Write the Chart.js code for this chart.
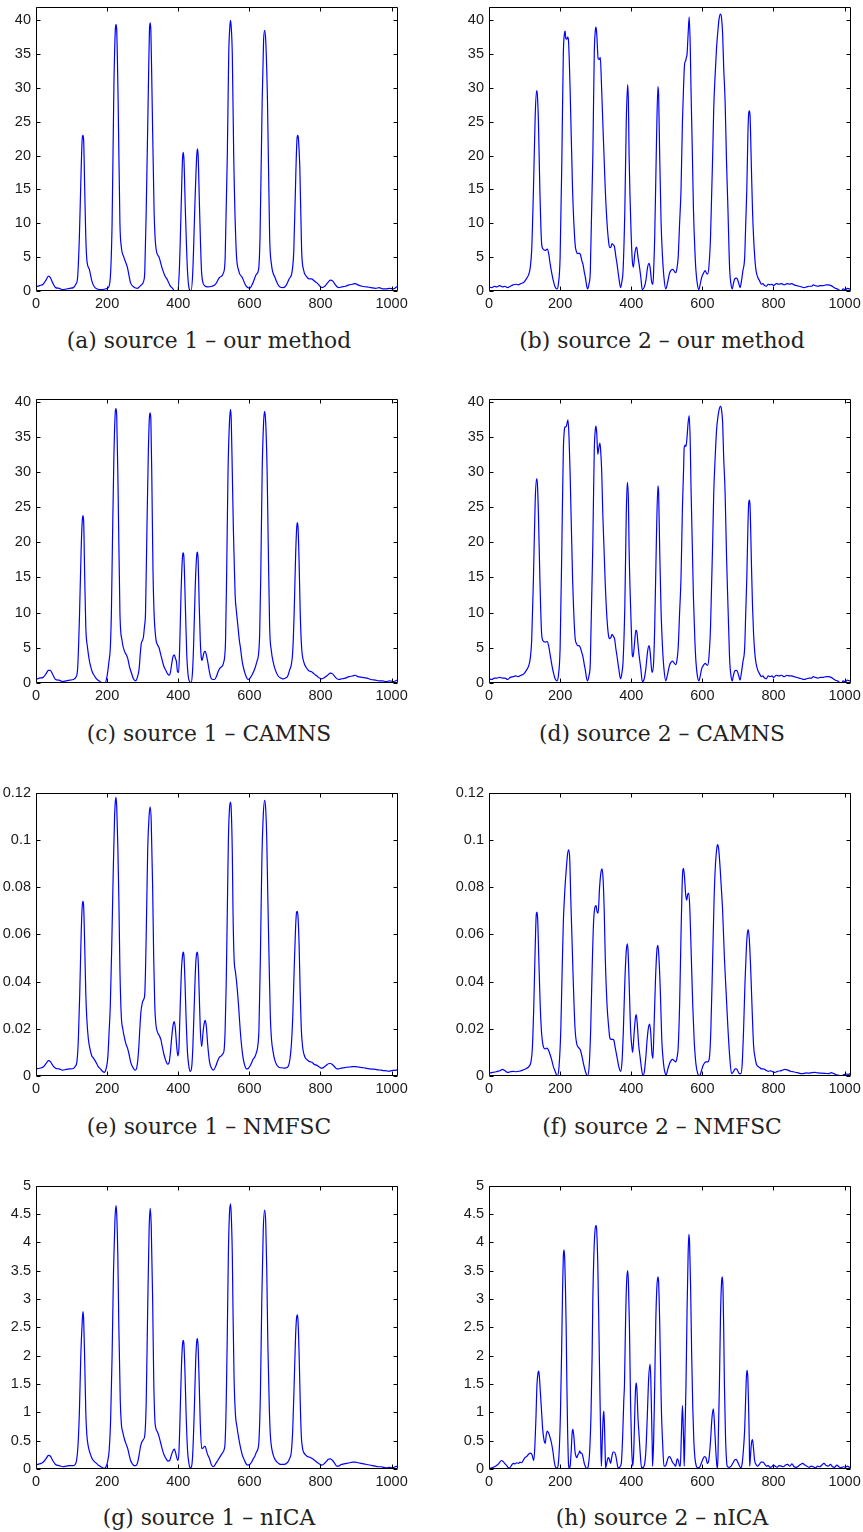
<!DOCTYPE html>
<html>
<head>
<meta charset="utf-8">
<script src="https://cdn.jsdelivr.net/npm/chart.js@4.4.1/dist/chart.umd.min.js"></script>
<style>
  html, body { margin: 0; padding: 0; background: #fff; }
  #fig { position: relative; width: 863px; height: 1532px; overflow: hidden; }
  .panel { position: absolute; }
  .cap { position: absolute; width: 420px; text-align: center; font-family: "DejaVu Serif", serif; font-size: 21.8px; line-height: 24px; color: #222; white-space: nowrap; }
</style>
</head>
<body>
<div id="fig"></div>
<script>
// ---------------- DATA ----------------
const captions = [
  "(a) source 1 \u2013 our method", "(b) source 2 \u2013 our method",
  "(c) source 1 \u2013 CAMNS", "(d) source 2 \u2013 CAMNS",
  "(e) source 1 \u2013 NMFSC", "(f) source 2 \u2013 NMFSC",
  "(g) source 1 \u2013 nICA", "(h) source 2 \u2013 nICA"
];
const xTicks = [0, 200, 400, 600, 800, 1000];
const yTicks40 = [0, 5, 10, 15, 20, 25, 30, 35, 40];
const yTicks012 = [0, 0.02, 0.04, 0.06, 0.08, 0.1, 0.12];
const yTicks5 = [0, 0.5, 1, 1.5, 2, 2.5, 3, 3.5, 4, 4.5, 5];
const yMax = [42, 42, 40.4, 40.4, 0.12, 0.12, 5, 5];
const xMax = 1018;

const srcA = [[0,0.6],[10,0.8],[20,1.0],[28,1.6],[35,2.2],[40,2.0],[47,1.2],[55,0.5],[65,0.4],[75,0.2],[85,0.3],[95,0.4],[105,0.5],[112,1.0],[117,2.0],[122,8],[127,18],[130,22.5],[132,23],[134,22.3],[137,15],[140,8],[143,4.6],[150,3.2],[157,1.5],[163,0.7],[172,0.3],[185,0.2],[195,0.3],[203,0.5],[209,2],[214,10],[219,30],[223,38.5],[225,39.4],[227,38.5],[231,28],[236,10],[240,6.5],[247,5.0],[257,3.5],[266,1.2],[275,0.6],[285,0.4],[294,0.8],[303,1.5],[306,3],[310,12],[316,30],[319,38.5],[321,39.6],[323,38.5],[326,30],[332,12],[337,6.5],[346,5],[354,3.5],[362,2.3],[370,1.6],[377,0.8],[384,0.4],[390,0],[398,0],[403,3],[408,12],[412,19.5],[414,20.5],[416,19.5],[420,12],[426,3],[431,0.3],[436,0],[441,3],[447,13],[452,20],[454,21],[456,20],[460,12],[466,2.5],[474,0.8],[483,0.6],[495,0.7],[505,1.0],[516,2.0],[528,2.8],[532,5],[538,20],[542,35],[545,39],[547,40],[549,39],[552,35],[556,20],[563,6],[570,3],[580,2],[590,0.8],[601,0.4],[610,1.2],[620,2.5],[626,3.2],[630,8],[636,28],[640,37],[643,38.5],[646,37],[651,28],[657,8],[662,4],[672,2],[686,0.6],[695,0.5],[703,0.8],[712,1.8],[720,2.8],[725,6],[731,18],[734,22.5],[736,23],[738,22.5],[742,18],[747,6],[753,3],[760,2.2],[768,1.8],[775,1.8],[782,1.5],[790,1.2],[804,0.5],[812,0.7],[820,1.2],[828,1.6],[834,1.5],[842,0.9],[851,0.5],[860,0.6],[870,0.7],[880,0.9],[890,1.0],[898,1.1],[905,0.9],[917,0.7],[930,0.6],[942,0.5],[955,0.4],[965,0.5],[975,0.3],[983,0.3],[995,0.4],[1005,0.3],[1015,0.6],[1024,0.6]];

const srcB = [[0,0.6],[8,0.5],[15,0.7],[22,0.6],[30,0.8],[38,0.6],[45,0.7],[52,0.5],[60,0.7],[68,0.9],[75,1.0],[82,0.9],[90,1.1],[98,1.3],[105,1.8],[112,2.5],[116,3.5],[120,6],[125,15],[130,26],[134,29.6],[136,29],[139,25],[143,15],[148,7],[152,6.2],[158,6.0],[164,6.2],[168,5.5],[172,4],[177,2.5],[181,1.5],[186,0.6],[191,0.3],[195,1.0],[200,5],[205,20],[209,35],[212,38],[214,38.4],[216,37.3],[219,37.2],[221,37.5],[223,37.3],[228,30],[235,15],[242,7],[246,5.8],[249,5.5],[253,5.6],[257,5.4],[261,4.5],[264,4],[268,2.8],[271,2],[274,1.0],[277,0.3],[281,1.0],[285,3],[292,20],[296,35],[299,38.5],[301,39],[303,38],[307,34.3],[310,34.2],[313,34.5],[316,31],[320,25],[327,15],[332,10],[337,7],[340,6.4],[343,6.5],[346,7],[350,6.8],[353,6.5],[357,5],[360,4],[365,2],[370,0.5],[374,1.5],[377,3],[382,12],[386,25],[390,30.5],[392,28],[394,20],[400,8],[403,4.5],[406,3.5],[410,5.5],[414,6.5],[416,6.3],[419,5],[422,4],[427,2],[431,0.2],[436,0.5],[441,1.5],[446,3.5],[450,4.1],[453,3.5],[457,1.5],[461,1.0],[463,3],[466,8],[471,22],[475,30.2],[477,29],[480,20],[484,10],[488,5],[492,2],[497,0.3],[502,1.2],[507,2.5],[511,3.0],[516,3.2],[520,3.0],[525,2.7],[529,3.5],[532,5],[536,10],[540,15],[544,25],[547,30],[550,33.5],[553,34],[555,34.5],[557,35],[560,38],[563,40.5],[566,36],[568,30],[572,20],[575,12],[579,6],[582,3],[586,1.0],[590,0.2],[594,1.0],[598,2],[603,2.6],[608,3],[612,2.6],[615,2.5],[619,4],[623,8],[626,14],[629,20],[632,27],[636,32],[640,36],[643,38],[647,40.2],[651,40.9],[654,40.3],[657,38],[660,33],[664,28],[668,19],[672,12],[675,6],[677,3],[680,1.2],[684,0.3],[687,1.0],[691,1.8],[695,1.9],[698,1.8],[702,1.2],[706,0.5],[710,1.5],[714,3],[719,5],[722,10],[725,15],[728,23],[730,26],[732,26.6],[734,26],[738,18],[741,12],[744,8],[748,4.5],[751,3],[756,2],[761,1.5],[766,1.0],[770,1.1],[775,0.8],[780,0.7],[785,1.0],[790,0.9],[796,1.0],[800,0.8],[808,1.1],[815,1.0],[823,1.1],[830,0.9],[838,1.1],[845,1.0],[851,1.1],[858,0.9],[865,0.8],[872,0.7],[879,0.6],[886,0.5],[893,0.6],[900,0.7],[907,0.7],[912,0.9],[917,0.8],[925,0.7],[932,0.8],[940,0.8],[948,0.9],[955,0.9],[962,0.8],[968,0.6],[974,0.4],[980,0.3],[986,0.1],[991,0.0],[996,0.3],[1002,0.2],[1008,0.4],[1014,0.3],[1019,0.5],[1024,0.4]];

const srcC = [[0,0.5],[10,0.7],[20,0.8],[28,1.3],[35,1.8],[40,1.8],[47,1.2],[55,0.5],[65,0.4],[75,0.2],[85,0.3],[95,0.4],[105,0.5],[112,0.8],[117,2.0],[122,9],[127,19],[130,23],[132,23.8],[134,23],[137,15],[140,8],[145,5],[150,3.2],[153,2.5],[158,1.6],[162,1.2],[167,0.8],[172,0.5],[180,0.2],[186,0],[194,0],[200,1],[205,3],[209,5],[212,10],[215,20],[219,32],[223,38.5],[225,39],[227,38],[231,27],[236,10],[242,6],[249,4.5],[254,4.0],[258,3.5],[263,2.3],[268,1.5],[274,0.6],[280,0.3],[285,0.8],[290,2],[293,4],[296,5.6],[299,6],[302,6.5],[305,8],[308,10],[312,22],[316,33],[319,37.8],[321,38.4],[323,37.5],[326,28],[329,16],[332,10],[337,6.3],[341,5.5],[346,5],[351,4],[356,3],[360,2.3],[365,1.8],[370,1.3],[375,1.1],[378,1.5],[381,2.5],[385,3.7],[389,4],[392,3.5],[395,3],[398,1.6],[401,1.5],[404,5],[408,13],[412,18],[414,18.5],[416,17.8],[420,11],[424,4],[428,1],[432,0.2],[436,0],[440,1.5],[443,5],[448,14],[452,18.2],[454,18.6],[456,17.5],[459,11],[462,6],[465,3.5],[467,3.2],[470,3.8],[473,4.4],[476,4.5],[479,4],[483,3],[488,1.5],[492,0.7],[497,0.5],[502,0.5],[508,1],[512,1.6],[516,2.0],[521,2.3],[525,2.5],[528,3],[530,3.5],[533,6],[536,15],[540,30],[544,37],[547,38.9],[549,37.5],[552,30],[555,22],[557,18],[560,12.5],[564,10],[568,8],[572,6],[575,5],[580,3],[587,1.5],[592,0.8],[596,0.5],[602,0.7],[608,1.2],[615,2],[621,3],[626,4.2],[629,7],[632,15],[636,30],[640,37],[643,38.6],[646,37],[650,30],[653,20],[657,8],[662,4.5],[667,3],[672,2],[681,1],[688,0.7],[693,0.6],[696,0.6],[702,0.7],[708,1.0],[713,1.8],[718,2.6],[722,4.5],[726,10],[730,18],[733,22],[735,22.8],[737,22],[740,17],[743,10],[747,5],[753,3],[760,2.2],[768,1.7],[775,1.6],[782,1.3],[790,1.0],[797,0.7],[804,0.6],[812,0.8],[820,1.1],[828,1.4],[834,1.3],[842,0.8],[851,0.5],[860,0.6],[870,0.7],[880,0.9],[890,1.0],[898,1.1],[905,0.9],[917,0.8],[930,0.7],[942,0.5],[955,0.4],[965,0.3],[975,0.3],[983,0.2],[995,0.3],[1005,0.2],[1015,0.4],[1024,0.7]];

const srcD = [[0,0.6],[8,0.5],[15,0.7],[22,0.7],[30,0.8],[38,0.7],[45,0.7],[52,0.5],[60,0.8],[68,0.9],[75,1.0],[82,0.9],[90,1.1],[98,1.3],[105,1.8],[112,2.5],[116,3.5],[120,6],[125,15],[130,26],[134,29.0],[136,28.4],[139,24],[143,15],[148,7],[152,6.0],[158,5.8],[164,5.9],[168,5.2],[172,4],[177,2.5],[181,1.5],[186,0.6],[191,0.3],[195,1.0],[200,5],[205,20],[209,33],[212,36],[214,36.4],[217,36.4],[219,36.8],[222,37.4],[225,35],[228,30],[235,15],[242,6.5],[246,5.6],[249,5.3],[253,5.3],[257,5.0],[261,4.3],[264,3.8],[268,2.6],[271,1.8],[274,0.8],[277,0.3],[281,1.0],[285,3],[292,20],[296,33],[299,36],[301,36.5],[303,35.5],[306,32.5],[309,33.5],[312,34.1],[314,33],[317,30],[320,24],[327,14],[332,9],[337,6.5],[340,6.3],[343,6.5],[346,6.9],[350,6.6],[353,6.3],[357,4.8],[360,3.8],[365,2],[370,0.6],[374,1.5],[377,3],[382,11],[386,24],[389,28.5],[392,26],[394,19],[400,8],[403,4.0],[405,3.7],[409,5.5],[413,7.5],[416,7.2],[419,5.5],[422,4],[427,2],[431,0.2],[436,0.5],[441,2],[446,4.5],[450,5.3],[453,4.5],[457,2],[459,1.5],[463,3],[466,8],[471,21],[475,28],[477,27],[480,19],[484,10],[488,5],[492,2],[497,0.3],[502,1.2],[507,2.4],[511,2.9],[516,3.1],[520,2.9],[525,2.6],[529,3.4],[532,5],[536,10],[540,15],[544,25],[547,30],[549,33.5],[552,33.8],[554,33.6],[557,35],[560,37],[563,38],[566,34],[568,28],[572,19],[575,12],[579,6],[582,3],[586,1.0],[590,0.3],[594,1.0],[598,2],[603,2.5],[608,2.8],[612,2.6],[615,2.5],[619,4],[623,8],[626,14],[629,20],[632,27],[636,32],[640,36],[643,37.5],[647,38.8],[651,39.3],[654,38.8],[657,37],[660,32],[664,27],[668,18],[672,11],[675,6],[677,3],[680,1.2],[684,0.3],[687,1.0],[691,1.7],[695,1.8],[698,1.7],[702,1.1],[706,0.4],[710,1.5],[714,3],[719,5],[722,10],[725,15],[728,22],[730,25.3],[732,26],[734,25.3],[738,17],[741,11],[744,7],[748,4],[751,2.8],[756,1.8],[761,1.3],[766,0.9],[770,1.0],[775,0.7],[780,0.6],[785,1.0],[790,0.9],[796,1.0],[800,0.8],[808,1.1],[815,1.0],[823,1.1],[830,0.9],[838,1.1],[845,1.0],[851,1.0],[858,0.9],[865,0.8],[872,0.7],[879,0.6],[886,0.5],[893,0.6],[900,0.7],[907,0.7],[912,0.9],[917,0.8],[925,0.7],[932,0.8],[940,0.8],[948,0.9],[955,0.9],[962,0.8],[968,0.6],[974,0.4],[980,0.3],[986,0.1],[991,0.0],[996,0.3],[1002,0.2],[1008,0.4],[1014,0.3],[1019,0.5],[1024,0.4]];

const srcE = [[0,0.003],[10,0.0033],[20,0.0038],[28,0.0052],[35,0.0065],[40,0.0062],[47,0.0045],[55,0.0033],[65,0.003],[75,0.0025],[85,0.0028],[95,0.003],[105,0.0032],[110,0.004],[115,0.006],[119,0.015],[123,0.035],[127,0.06],[130,0.072],[132,0.074],[134,0.072],[137,0.055],[140,0.035],[143,0.024],[147,0.016],[151,0.012],[157,0.0085],[162,0.0075],[168,0.006],[175,0.004],[181,0.003],[187,0.002],[192,0.0015],[197,0.003],[202,0.008],[206,0.02],[209,0.03],[213,0.055],[217,0.085],[221,0.11],[223,0.116],[225,0.118],[227,0.114],[230,0.098],[233,0.075],[236,0.045],[240,0.025],[244,0.02],[249,0.016],[253,0.0135],[257,0.012],[262,0.009],[266,0.006],[271,0.004],[276,0.0028],[280,0.0025],[285,0.005],[289,0.012],[292,0.02],[295,0.027],[299,0.031],[303,0.0325],[306,0.035],[310,0.06],[314,0.095],[318,0.11],[321,0.114],[324,0.108],[328,0.08],[331,0.05],[334,0.03],[337,0.022],[342,0.0185],[347,0.017],[351,0.0155],[355,0.0125],[360,0.009],[365,0.0065],[370,0.005],[374,0.0055],[378,0.01],[382,0.017],[386,0.022],[389,0.023],[392,0.02],[396,0.012],[399,0.0085],[402,0.012],[405,0.027],[409,0.045],[412,0.051],[414,0.0525],[416,0.051],[419,0.04],[422,0.025],[426,0.01],[430,0.004],[434,0.002],[438,0.004],[441,0.012],[445,0.03],[449,0.047],[452,0.052],[454,0.0525],[456,0.049],[459,0.035],[462,0.02],[466,0.0125],[470,0.019],[474,0.023],[476,0.0236],[479,0.021],[483,0.013],[488,0.006],[493,0.0035],[499,0.0025],[505,0.004],[511,0.0065],[516,0.008],[521,0.0085],[526,0.0095],[529,0.011],[532,0.02],[535,0.04],[538,0.07],[541,0.1],[544,0.113],[547,0.116],[549,0.113],[552,0.095],[554,0.07],[557,0.05],[561,0.044],[564,0.04],[567,0.035],[570,0.029],[574,0.02],[578,0.013],[582,0.008],[587,0.0045],[592,0.003],[597,0.0032],[601,0.004],[606,0.0055],[610,0.007],[615,0.008],[620,0.01],[624,0.013],[627,0.02],[631,0.05],[635,0.09],[639,0.11],[643,0.1168],[646,0.113],[649,0.1],[652,0.075],[656,0.045],[659,0.025],[662,0.016],[667,0.01],[672,0.0065],[676,0.005],[681,0.004],[686,0.0035],[692,0.0035],[698,0.0033],[704,0.0035],[709,0.004],[714,0.007],[718,0.013],[722,0.025],[726,0.045],[730,0.063],[733,0.0695],[735,0.0697],[737,0.067],[740,0.055],[743,0.035],[746,0.02],[750,0.012],[754,0.009],[758,0.0075],[763,0.0068],[768,0.0062],[772,0.006],[776,0.0058],[782,0.005],[790,0.0045],[797,0.0038],[804,0.0033],[810,0.0038],[816,0.0045],[822,0.0052],[828,0.0053],[834,0.0048],[840,0.0038],[846,0.003],[851,0.003],[858,0.0033],[866,0.0035],[874,0.0037],[882,0.0038],[890,0.004],[898,0.004],[906,0.0038],[914,0.0036],[922,0.0035],[930,0.0032],[938,0.003],[946,0.0029],[954,0.0028],[962,0.0026],[970,0.0025],[978,0.0023],[986,0.0022],[992,0.002],[1000,0.0023],[1008,0.0024],[1016,0.0026],[1024,0.003]];

const srcF = [[0,0.0012],[10,0.0015],[20,0.0018],[30,0.0022],[38,0.0028],[45,0.0022],[52,0.0015],[60,0.0018],[68,0.002],[75,0.0018],[85,0.002],[95,0.0025],[105,0.0032],[112,0.004],[118,0.006],[122,0.012],[126,0.03],[130,0.055],[133,0.0685],[135,0.0694],[137,0.066],[140,0.05],[144,0.03],[148,0.018],[152,0.013],[158,0.0115],[163,0.0118],[167,0.011],[172,0.009],[176,0.007],[181,0.004],[186,0.002],[192,0.0],[197,0.004],[202,0.02],[205,0.04],[209,0.065],[213,0.078],[217,0.087],[221,0.094],[224,0.0958],[227,0.092],[230,0.075],[233,0.06],[237,0.04],[242,0.02],[247,0.0135],[252,0.012],[257,0.011],[262,0.008],[266,0.005],[271,0.002],[277,0.0],[282,0.005],[286,0.02],[290,0.045],[294,0.065],[298,0.0715],[301,0.0722],[304,0.0695],[307,0.069],[311,0.08],[315,0.0865],[318,0.0877],[321,0.083],[324,0.07],[327,0.05],[332,0.03],[337,0.02],[340,0.016],[344,0.0155],[348,0.0155],[351,0.0152],[355,0.012],[360,0.008],[365,0.004],[370,0.002],[374,0.006],[378,0.02],[382,0.04],[386,0.053],[389,0.056],[391,0.053],[394,0.04],[398,0.02],[402,0.012],[404,0.01],[408,0.018],[412,0.025],[414,0.026],[417,0.022],[421,0.013],[425,0.008],[429,0.003],[433,0.0],[437,0.002],[441,0.008],[445,0.016],[449,0.021],[452,0.022],[455,0.018],[458,0.01],[461,0.0075],[464,0.02],[468,0.04],[472,0.053],[475,0.0553],[478,0.05],[482,0.035],[486,0.015],[491,0.005],[494,0.002],[498,0.0005],[503,0.003],[507,0.005],[512,0.0065],[516,0.007],[521,0.0065],[525,0.006],[529,0.008],[532,0.012],[536,0.03],[540,0.06],[543,0.08],[545,0.087],[547,0.088],[550,0.084],[553,0.077],[556,0.0745],[559,0.077],[562,0.0774],[565,0.07],[569,0.05],[573,0.03],[577,0.015],[582,0.005],[587,0.001],[592,0.0],[597,0.002],[601,0.004],[606,0.0055],[610,0.006],[615,0.006],[620,0.008],[624,0.02],[629,0.05],[633,0.075],[637,0.09],[641,0.097],[643,0.098],[646,0.096],[650,0.088],[654,0.078],[657,0.07],[662,0.05],[667,0.035],[672,0.02],[677,0.008],[682,0.001],[688,0.002],[692,0.003],[696,0.003],[700,0.002],[704,0.001],[708,0.001],[712,0.005],[716,0.02],[720,0.04],[724,0.055],[727,0.061],[729,0.062],[732,0.058],[736,0.045],[740,0.028],[744,0.013],[748,0.008],[752,0.005],[757,0.004],[762,0.0035],[766,0.003],[772,0.003],[778,0.0025],[785,0.002],[792,0.0022],[798,0.0018],[804,0.0015],[812,0.002],[820,0.0022],[826,0.0025],[832,0.0028],[840,0.0025],[848,0.002],[856,0.0018],[864,0.0015],[872,0.0012],[879,0.001],[886,0.0011],[893,0.0013],[900,0.0012],[908,0.0014],[917,0.0015],[925,0.0013],[935,0.0012],[945,0.0011],[955,0.001],[962,0.0014],[970,0.001],[978,0.0005],[986,0.0002],[992,0.0],[998,0.0006],[1005,0.0008],[1012,0.0007],[1018,0.0012],[1024,0.001]];

const srcG = [[0,0.07],[10,0.09],[20,0.12],[28,0.18],[35,0.24],[40,0.23],[47,0.15],[55,0.08],[65,0.06],[75,0.04],[85,0.05],[95,0.06],[105,0.06],[110,0.08],[114,0.15],[118,0.4],[122,1.0],[126,2.0],[130,2.6],[132,2.78],[134,2.65],[137,1.9],[140,1.0],[143,0.6],[147,0.4],[152,0.28],[158,0.18],[163,0.14],[170,0.1],[177,0.06],[185,0.03],[192,0.01],[197,0.04],[202,0.15],[206,0.35],[210,0.9],[214,2.0],[218,3.5],[222,4.4],[225,4.65],[227,4.5],[230,3.8],[233,2.5],[237,1.2],[240,0.8],[244,0.65],[249,0.52],[254,0.43],[258,0.36],[262,0.25],[266,0.15],[271,0.09],[276,0.06],[281,0.06],[286,0.12],[290,0.25],[294,0.4],[298,0.48],[302,0.52],[306,0.6],[310,1.2],[314,2.8],[318,4.2],[321,4.6],[324,4.3],[328,3.0],[331,1.6],[334,0.9],[337,0.72],[342,0.65],[347,0.55],[351,0.45],[355,0.35],[360,0.25],[365,0.19],[371,0.14],[376,0.15],[381,0.25],[386,0.33],[389,0.35],[392,0.3],[396,0.2],[399,0.15],[402,0.3],[405,0.9],[409,1.8],[412,2.2],[414,2.27],[416,2.2],[419,1.7],[422,1.0],[426,0.35],[430,0.1],[434,0.02],[438,0.06],[441,0.3],[445,1.0],[449,1.9],[452,2.25],[454,2.3],[456,2.15],[459,1.5],[462,0.8],[466,0.36],[470,0.37],[474,0.4],[476,0.4],[479,0.33],[483,0.25],[488,0.18],[493,0.08],[499,0.04],[505,0.09],[511,0.15],[516,0.2],[521,0.25],[526,0.3],[529,0.34],[532,0.5],[535,1.2],[538,2.4],[541,3.8],[544,4.5],[547,4.68],[549,4.5],[552,3.8],[554,2.8],[557,1.6],[561,0.95],[565,0.75],[570,0.55],[575,0.38],[580,0.25],[585,0.17],[590,0.1],[595,0.07],[601,0.08],[606,0.12],[610,0.17],[615,0.22],[620,0.3],[624,0.35],[627,0.5],[631,1.3],[635,3.0],[639,4.2],[643,4.57],[646,4.35],[649,3.5],[652,2.2],[656,1.1],[659,0.6],[662,0.4],[667,0.25],[672,0.17],[678,0.12],[684,0.09],[690,0.08],[696,0.08],[702,0.09],[708,0.12],[713,0.18],[718,0.3],[722,0.7],[726,1.5],[730,2.35],[733,2.68],[735,2.72],[737,2.6],[740,2.0],[743,1.2],[746,0.6],[750,0.35],[754,0.28],[758,0.25],[763,0.22],[768,0.21],[773,0.2],[778,0.18],[784,0.15],[790,0.12],[797,0.09],[804,0.07],[810,0.09],[816,0.13],[822,0.17],[828,0.18],[834,0.15],[840,0.1],[846,0.05],[851,0.05],[858,0.08],[866,0.09],[874,0.1],[882,0.11],[890,0.12],[898,0.12],[906,0.11],[914,0.1],[922,0.09],[930,0.08],[938,0.07],[946,0.06],[954,0.05],[962,0.04],[970,0.04],[978,0.03],[986,0.02],[994,0.03],[1002,0.02],[1010,0.04],[1018,0.05],[1024,0.06]];

const srcH = [[0,0.01],[8,0.02],[15,0.04],[21,0.06],[28,0.1],[35,0.15],[40,0.13],[44,0.1],[50,0.06],[55,0.02],[58,0.02],[63,0.06],[68,0.1],[73,0.09],[78,0.11],[83,0.1],[87,0.12],[92,0.11],[97,0.16],[101,0.2],[106,0.22],[111,0.26],[117,0.28],[121,0.25],[124,0.18],[126,0.15],[129,0.4],[132,0.9],[135,1.5],[138,1.7],[140,1.73],[142,1.6],[145,1.3],[148,1.0],[151,0.7],[155,0.5],[158,0.45],[161,0.6],[164,0.67],[168,0.63],[172,0.55],[176,0.45],[180,0.3],[183,0.15],[186,0.05],[189,0.02],[192,0.02],[195,0.1],[198,0.4],[201,1.0],[204,2.0],[207,3.2],[209,3.75],[211,3.87],[213,3.7],[215,3.2],[217,2.5],[219,1.5],[221,0.7],[224,0.05],[226,0.02],[228,0.04],[231,0.3],[234,0.65],[236,0.7],[239,0.55],[242,0.3],[245,0.22],[247,0.2],[250,0.25],[253,0.28],[255,0.32],[258,0.28],[261,0.28],[264,0.22],[268,0.1],[272,0.03],[275,0.0],[279,0.05],[283,0.3],[287,1.0],[290,2.0],[292,3.0],[295,3.8],[298,4.2],[301,4.3],[303,4.2],[306,3.6],[309,2.5],[312,1.3],[314,0.6],[316,0.05],[318,0.4],[321,0.9],[323,1.02],[325,0.7],[327,0.2],[328,0.02],[331,0.1],[335,0.2],[338,0.18],[342,0.1],[345,0.2],[349,0.3],[352,0.3],[356,0.25],[359,0.15],[363,0.02],[367,0.03],[372,0.1],[376,0.6],[379,1.2],[381,1.5],[384,2.6],[387,3.3],[390,3.5],[392,3.3],[395,2.5],[398,1.2],[401,0.4],[404,0.05],[407,0.3],[410,1.0],[412,1.4],[414,1.52],[416,1.4],[419,0.9],[422,0.6],[425,0.3],[429,0.02],[434,0.03],[438,0.1],[441,0.3],[445,0.9],[449,1.6],[453,1.85],[455,1.6],[457,1.0],[459,0.4],[460,0.05],[463,0.5],[466,1.5],[469,2.6],[472,3.2],[475,3.39],[477,3.3],[480,2.6],[483,1.6],[485,1.0],[488,0.5],[492,0.05],[496,0.05],[500,0.12],[504,0.2],[508,0.22],[512,0.18],[516,0.12],[521,0.08],[525,0.05],[528,0.15],[530,0.18],[533,0.14],[536,0.05],[538,0.05],[541,0.6],[544,1.12],[546,0.8],[548,0.3],[549,0.05],[551,0.6],[554,1.5],[557,2.8],[560,3.8],[562,4.14],[564,4.0],[567,3.2],[570,2.0],[573,1.1],[576,0.5],[579,0.2],[583,0.05],[587,0.02],[592,0.03],[597,0.1],[602,0.18],[606,0.22],[610,0.2],[613,0.12],[615,0.1],[619,0.2],[623,0.5],[627,0.9],[631,1.06],[634,0.8],[638,0.3],[641,0.05],[643,0.02],[645,0.6],[648,1.5],[651,2.7],[654,3.3],[656,3.39],[658,3.2],[660,2.5],[662,1.5],[665,0.6],[668,0.15],[670,0.05],[675,0.03],[681,0.05],[687,0.12],[691,0.16],[695,0.17],[699,0.13],[703,0.07],[708,0.02],[712,0.1],[715,0.3],[719,0.7],[722,1.3],[724,1.65],[726,1.74],[728,1.6],[730,1.1],[732,0.5],[733,0.05],[735,0.2],[738,0.45],[741,0.52],[744,0.35],[747,0.15],[751,0.08],[755,0.05],[760,0.08],[765,0.12],[771,0.12],[776,0.08],[781,0.05],[785,0.06],[790,0.03],[795,0.04],[800,0.07],[805,0.05],[810,0.03],[816,0.06],[822,0.05],[828,0.04],[834,0.07],[840,0.08],[846,0.05],[852,0.09],[858,0.04],[864,0.03],[870,0.05],[876,0.08],[882,0.1],[888,0.07],[894,0.05],[900,0.03],[906,0.05],[912,0.04],[918,0.02],[924,0.05],[930,0.04],[936,0.07],[942,0.1],[948,0.06],[954,0.05],[960,0.08],[966,0.04],[972,0.03],[978,0.07],[984,0.04],[990,0.02],[996,0.04],[1002,0.03],[1008,0.05],[1014,0.03],[1020,0.04],[1024,0.03]];

// ---------------- LAYOUT ----------------
const series = [srcA, srcB, srcC, srcD, srcE, srcF, srcG, srcH];
const yTickSets = [yTicks40, yTicks40, yTicks40, yTicks40, yTicks012, yTicks012, yTicks5, yTicks5];
const colLR = [[36, 398], [489, 851]];
const rowTB = [[5, 291], [397, 683], [791, 1076], [1184, 1469]];
const capY = [341, 734, 1127, 1518];
const capX = [209, 662];
const PADL = 44, PADT = 12, PADR = 22, PADB = 30;

const framePlugin = {
  id: 'frame',
  afterDraw(chart) {
    const { ctx, chartArea: a, scales: { x, y } } = chart;
    const L = Math.round(a.left) + 0.5, R = Math.round(a.right) - 0.5;
    const T = Math.round(a.top) + 0.5, B = Math.round(a.bottom) - 0.5;
    ctx.save();
    ctx.strokeStyle = '#000';
    ctx.lineWidth = 1;
    ctx.beginPath();
    ctx.rect(L, T, R - L, B - T);
    x.ticks.forEach(t => {
      const p = Math.round(x.getPixelForValue(t.value)) + 0.5;
      ctx.moveTo(p, B); ctx.lineTo(p, B - 4);
      ctx.moveTo(p, T); ctx.lineTo(p, T + 4);
    });
    y.ticks.forEach(t => {
      const p = Math.round(y.getPixelForValue(t.value)) + 0.5;
      ctx.moveTo(L, p); ctx.lineTo(L + 4, p);
      ctx.moveTo(R, p); ctx.lineTo(R - 4, p);
    });
    ctx.stroke();
    ctx.restore();
  }
};

const fig = document.getElementById('fig');
const tickFont = { family: "'Liberation Sans', Arial, sans-serif", size: 14.5 };
const fmt = v => String(+Number(v).toFixed(4));

series.forEach((pts, i) => {
  const col = i % 2, row = Math.floor(i / 2);
  const [L, R] = colLR[col];
  const [T, B] = rowTB[row];
  const w = R - L + PADL + PADR, h = B - T + PADT + PADB;
  const div = document.createElement('div');
  div.className = 'panel';
  div.style.left = (L - PADL) + 'px';
  div.style.top = (T - PADT) + 'px';
  div.style.width = w + 'px';
  div.style.height = h + 'px';
  const cv = document.createElement('canvas');
  cv.width = w; cv.height = h;
  cv.style.width = w + 'px'; cv.style.height = h + 'px';
  div.appendChild(cv);
  fig.appendChild(div);

  const yt = yTickSets[i];
  new Chart(cv, {
    type: 'line',
    data: {
      datasets: [{
        data: pts.map(p => ({ x: p[0], y: p[1] })),
        borderColor: '#0000ff',
        borderWidth: 1.2,
        pointRadius: 0,
        fill: false,
        cubicInterpolationMode: 'monotone'
      }]
    },
    options: {
      responsive: false,
      animation: false,
      events: [],
      layout: { padding: { top: PADT, right: PADR, bottom: 0, left: 0 } },
      plugins: { legend: { display: false }, tooltip: { enabled: false } },
      scales: {
        x: {
          type: 'linear', min: 0, max: xMax,
          grid: { display: false, drawTicks: false, tickLength: 0 }, border: { display: false },
          afterFit: s => { s.height = PADB; },
          afterBuildTicks: s => { s.ticks = xTicks.map(v => ({ value: v })); },
          ticks: { font: tickFont, color: '#1a1a1a', padding: 4, maxRotation: 0, autoSkip: false, callback: fmt }
        },
        y: {
          type: 'linear', min: 0, max: yMax[i],
          grid: { display: false, drawTicks: false, tickLength: 0 }, border: { display: false },
          afterFit: s => { s.width = PADL; },
          afterBuildTicks: s => { s.ticks = yt.map(v => ({ value: v })); },
          ticks: { font: tickFont, color: '#1a1a1a', padding: 5, autoSkip: false, callback: fmt }
        }
      }
    },
    plugins: [framePlugin]
  });

  const cap = document.createElement('div');
  cap.className = 'cap';
  cap.textContent = captions[i];
  cap.style.left = (capX[col] - 210) + 'px';
  cap.style.top = (capY[row] - 12) + 'px';
  fig.appendChild(cap);
});
</script>
</body>
</html>
